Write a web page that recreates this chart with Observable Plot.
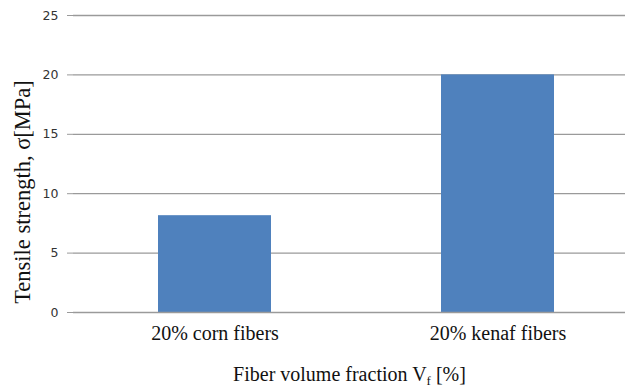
<!DOCTYPE html>
<html>
<head>
<meta charset="utf-8">
<script src="https://cdn.jsdelivr.net/npm/d3@7"></script>
<script src="https://cdn.jsdelivr.net/npm/@observablehq/plot@0.6"></script>
<style>
  html, body { margin: 0; padding: 0; background: #fff; }
  svg { display: block; }
</style>
</head>
<body>
<div id="chart"></div>
<script>
// Tensile strength of composites by fiber type
const categories = ["20% corn fibers", "20% kenaf fibers"];
const strength = [8.15, 20];
const yTicks = [0, 5, 10, 15, 20, 25];

const data = categories.map((c, i) => ({category: c, value: strength[i]}));

const serif = "'Liberation Serif', 'Times New Roman', serif";
const sans = "'DejaVu Sans', Verdana, sans-serif";

const chart = Plot.plot({
  width: 625,
  height: 390,
  marginLeft: 73,
  marginRight: 0,
  marginTop: 15,
  marginBottom: 78,
  style: {background: "#fff", overflow: "hidden", fontFamily: serif},
  x: {
    domain: categories,
    range: [73, 639],
    paddingInner: 0.6,
    paddingOuter: 0.3,
    label: null,
    axis: null
  },
  y: {domain: [0, 25], ticks: yTicks, label: null},
  marks: [
    Plot.gridY(yTicks.filter(d => d > 0), {stroke: "#9a9a9a", strokeOpacity: 1, strokeWidth: 1.3}),
    Plot.barY(data, {x: "category", y: "value", fill: "#4f81bd"}),
    Plot.ruleY([0], {stroke: "#9a9a9a", strokeWidth: 1.3}),
    Plot.ruleX([0], {x: () => 73, y1: 0, y2: 25, stroke: "#9a9a9a", strokeWidth: 1.3}),
    Plot.axisY({
      ticks: yTicks,
      tickSize: 6,
      tickPadding: 9,
      stroke: "#9a9a9a",
      color: "#333",
      fontSize: 12.5,
      fontFamily: sans,
      label: null
    }),
    // Category names under each bar
    Plot.text(categories, {
      x: d => d,
      frameAnchor: "bottom",
      lineAnchor: "top",
      dy: 13,
      fontSize: 20,
      fontFamily: serif,
      fill: "#111"
    }),
    Plot.text(["Fiber volume fraction V_f [%]"], {
      frameAnchor: "bottom",
      dy: 68,
      fontSize: 20,
      fontFamily: serif,
      fill: "#111",
      className: "x-title"
    }),
    Plot.text(["Tensile strength, σ[MPa]"], {
      frameAnchor: "left",
      textAnchor: "middle",
      dx: -51,
      dy: 28,
      rotate: -90,
      fontSize: 22.5,
      fontFamily: serif,
      fill: "#111"
    })
  ]
});

// Give the x title its subscript f
const xt = d3.select(chart).select(".x-title text");
xt.text(null);
xt.append("tspan").text("Fiber volume fraction V");
xt.append("tspan").attr("font-size", 13).attr("dy", 4).text("f");
xt.append("tspan").attr("dy", -4).text(" [%]");

document.getElementById("chart").appendChild(chart);
</script>
</body>
</html>
